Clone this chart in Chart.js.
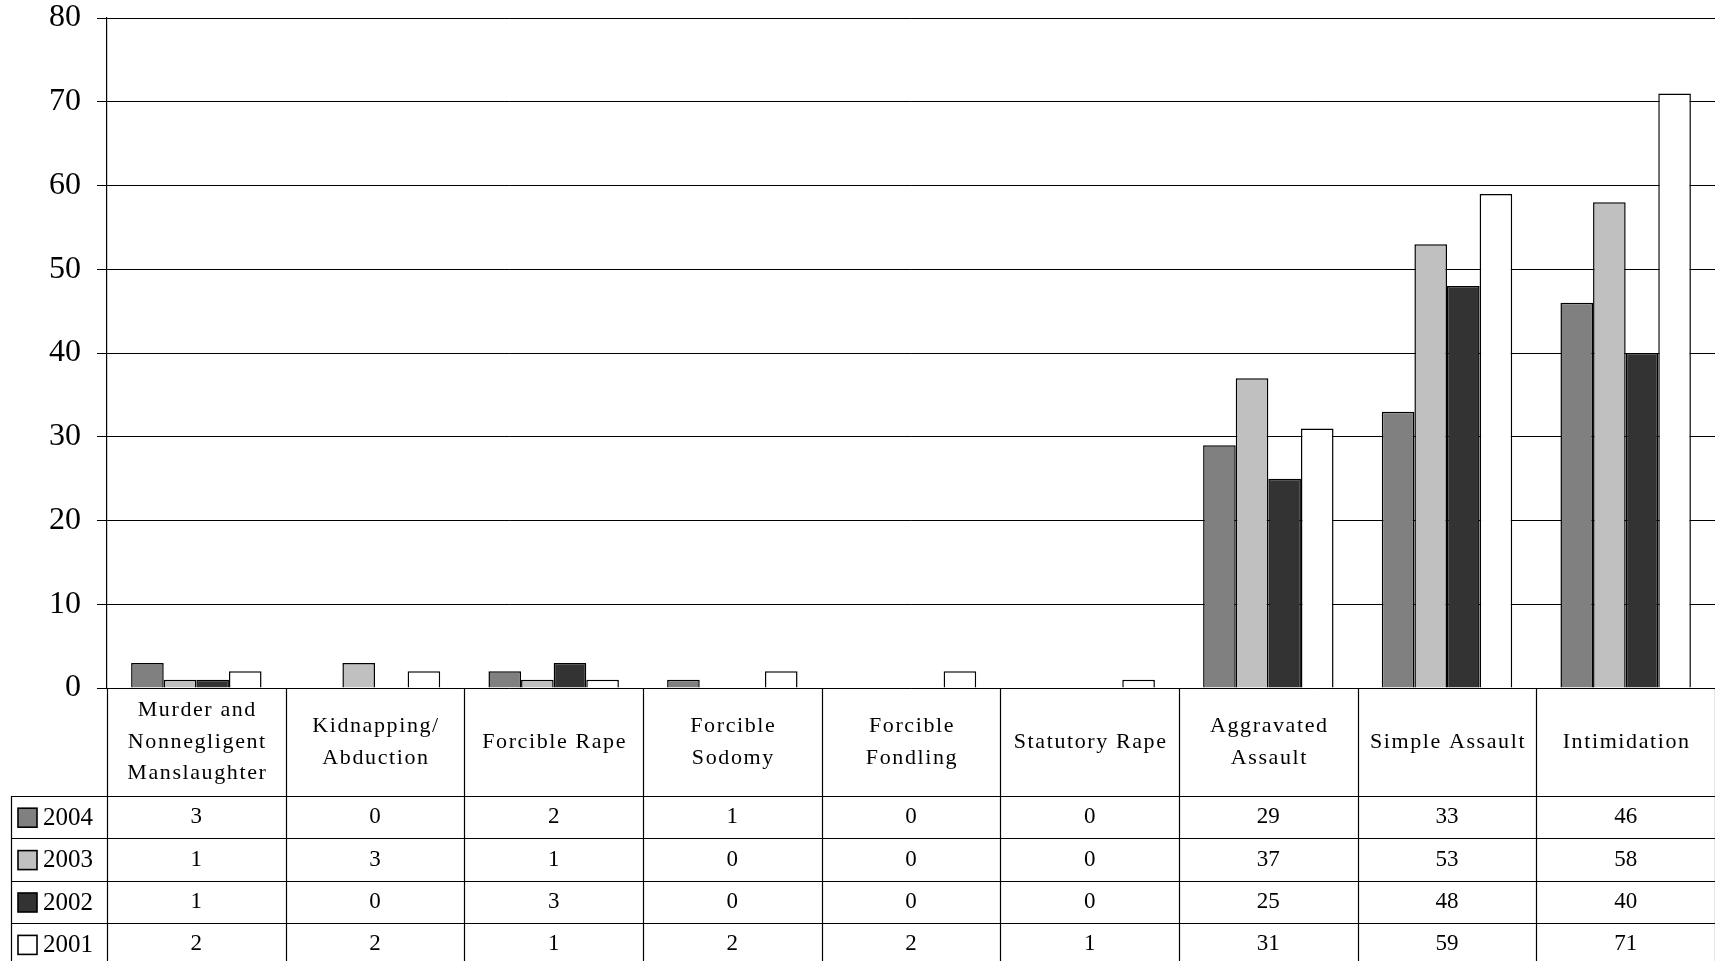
<!DOCTYPE html>
<html>
<head>
<meta charset="utf-8">
<script src="https://cdn.jsdelivr.net/npm/chart.js@4/dist/chart.umd.min.js"></script>
<style>
html,body{margin:0;padding:0;background:#fff;}
#wrap{width:1715px;height:961px;position:relative;}
</style>
</head>
<body>
<div id="wrap"><canvas id="c" width="1715" height="961"></canvas></div>
<script>
const categories = [
  ['Murder and','Nonnegligent','Manslaughter'],
  ['Kidnapping/','Abduction'],
  ['Forcible Rape'],
  ['Forcible','Sodomy'],
  ['Forcible','Fondling'],
  ['Statutory Rape'],
  ['Aggravated','Assault'],
  ['Simple Assault'],
  ['Intimidation']
];
const seriesNames = ['2004','2003','2002','2001'];
const values2004 = [3,0,2,1,0,0,29,33,46];
const values2003 = [1,3,1,0,0,0,37,53,58];
const values2002 = [1,0,3,0,0,0,25,48,40];
const values2001 = [2,2,1,2,2,1,31,59,71];
const seriesColors = ['#808080','#c0c0c0','#333333','#ffffff'];
const yTicks = [0,10,20,30,40,50,60,70,80];

const SERIF = "'Liberation Serif','Times New Roman',serif";
const allValues = [values2004, values2003, values2002, values2001];

const tablePlugin = {
  id: 'dataTable',
  afterDraw(chart) {
    const ctx = chart.ctx;
    const xs = chart.scales.x;
    const ca = chart.chartArea;
    const H = chart.height;
    const step = xs.getPixelForValue(1) - xs.getPixelForValue(0);
    const headerBottom = ca.bottom + 108;
    const rowH = 42.4;
    const leftX = 11;
    ctx.save();
    ctx.strokeStyle = '#000';
    ctx.lineWidth = 1.2;
    for (let i = 0; i <= categories.length; i++) {
      const x = Math.round(xs.getPixelForValue(0) - step/2 + i*step) + 0.5;
      ctx.beginPath(); ctx.moveTo(x, ca.bottom); ctx.lineTo(x, H); ctx.stroke();
    }
    ctx.beginPath(); ctx.moveTo(leftX+0.5, headerBottom); ctx.lineTo(leftX+0.5, H); ctx.stroke();
    for (let r = 0; r < seriesNames.length; r++) {
      const y = Math.round(headerBottom + r*rowH) + 0.5;
      ctx.beginPath(); ctx.moveTo(leftX, y); ctx.lineTo(ca.right, y); ctx.stroke();
    }
    ctx.fillStyle = '#000';
    ctx.textAlign = 'center';
    ctx.textBaseline = 'middle';
    ctx.font = '22px ' + SERIF;
    if ('letterSpacing' in ctx) ctx.letterSpacing = '1.6px';
    const lh = 31.5;
    const midH = (ca.bottom + headerBottom)/2;
    categories.forEach((lines, i) => {
      const cx = xs.getPixelForValue(i);
      const y0 = midH - (lines.length-1)*lh/2;
      lines.forEach((t, k) => ctx.fillText(t, cx + 1, y0 + k*lh));
    });
    if ('letterSpacing' in ctx) ctx.letterSpacing = '0px';
    allValues.forEach((vals, r) => {
      const cy = headerBottom + r*rowH + rowH/2;
      ctx.fillStyle = seriesColors[r];
      ctx.fillRect(18, cy - 9, 19, 19);
      ctx.lineWidth = 1.6;
      ctx.strokeRect(18, cy - 9, 19, 19);
      ctx.fillStyle = '#000';
      ctx.textAlign = 'left';
      ctx.font = '25px ' + SERIF;
      ctx.fillText(seriesNames[r], 43, cy + 1);
      ctx.textAlign = 'center';
      ctx.font = '23px ' + SERIF;
      vals.forEach((v, i) => {
        ctx.fillText(String(v), xs.getPixelForValue(i), cy);
      });
    });
    ctx.restore();
  }
};

new Chart(document.getElementById('c'), {
  type: 'bar',
  data: {
    labels: categories.map(c => c.join(' ')),
    datasets: seriesNames.map((n, i) => ({
      label: n,
      data: allValues[i],
      backgroundColor: seriesColors[i],
      borderColor: '#000',
      borderWidth: 1.5,
      categoryPercentage: 0.73,
      barPercentage: 1.0
    }))
  },
  options: {
    responsive: false,
    animation: false,
    devicePixelRatio: 1,
    layout: { padding: { left: 0, right: 0, top: 18, bottom: 273 } },
    plugins: { legend: { display: false }, tooltip: { enabled: false } },
    scales: {
      x: { display: false },
      y: {
        min: 0, max: 80,
        afterFit(scale) { scale.width = 107; scale.paddingTop = 0; scale.paddingBottom = 0; },
        afterBuildTicks(scale) { scale.ticks = yTicks.map(v => ({ value: v })); },
        ticks: {
          stepSize: 10,
          color: '#000',
          padding: 16,
          font: { family: SERIF, size: 32, lineHeight: 1.1 }
        },
        grid: { color: '#000', lineWidth: 1, tickLength: 10 },
        border: { display: true, color: '#000', width: 1.2 }
      }
    }
  },
  plugins: [tablePlugin]
});
</script>
</body>
</html>
